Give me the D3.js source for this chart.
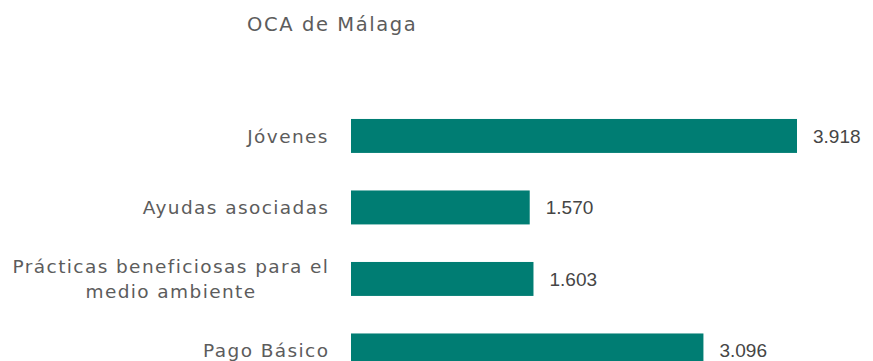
<!DOCTYPE html>
<html lang="es">
<head>
<meta charset="utf-8">
<script src="https://cdn.jsdelivr.net/npm/d3@7/dist/d3.min.js"></script>
<style>
  html, body { margin: 0; padding: 0; background: #ffffff; }
  svg { display: block; }
</style>
</head>
<body>
<svg id="chart" width="873" height="361"></svg>
<script>
// Ayudas PAC por línea — OCA de Málaga
const title = "OCA de Málaga";
const categories = [
  ["Jóvenes"],
  ["Ayudas asociadas"],
  ["Prácticas beneficiosas para el", "medio ambiente"],
  ["Pago Básico"]
];
const values = [3918, 1570, 1603, 3096];
const valueLabels = ["3.918", "1.570", "1.603", "3.096"];

const W = 873, H = 361;
const barColor = "#007d73";
const labelFont = "'DejaVu Sans', 'Open Sans', sans-serif";
const numberFont = "'Liberation Sans', Arial, sans-serif";
const labelSpacing = 1.4;

const svg = d3.select("#chart");

const keys = categories.map(c => c.join(" "));

const x = d3.scaleLinear()
  .domain([0, d3.max(values)])
  .range([351, 797]);

const y = d3.scaleBand()
  .domain(keys)
  .range([100.2, 386.2])
  .paddingInner(0.525)
  .paddingOuter(0.2625);

// Title
svg.append("text")
  .attr("x", 247)
  .attr("y", 31)
  .attr("font-family", labelFont)
  .attr("font-size", 19.5)
  .attr("letter-spacing", 1.6)
  .attr("fill", "#5c5c5c")
  .text(title);

// Bars
svg.append("g")
  .selectAll("rect")
  .data(values)
  .join("rect")
  .attr("x", x(0))
  .attr("y", (d, i) => y(keys[i]))
  .attr("width", d => x(d) - x(0))
  .attr("height", y.bandwidth())
  .attr("fill", barColor);

// Value labels
svg.append("g")
  .selectAll("text")
  .data(values)
  .join("text")
  .attr("x", d => x(d) + 16)
  .attr("y", (d, i) => y(keys[i]) + y.bandwidth() / 2)
  .attr("dy", "0.36em")
  .attr("font-family", numberFont)
  .attr("font-size", 19)
  .attr("fill", "#454545")
  .text((d, i) => valueLabels[i]);

// Category labels (multi-line labels are centred as a block, right-aligned to the axis)
const lineH = 25;
const rightEdge = 328;
const catG = svg.append("g");
categories.forEach((lines, i) => {
  const cy = y(keys[i]) + y.bandwidth() / 2;
  const t = catG.append("text")
    .attr("font-family", labelFont)
    .attr("font-size", 18.5)
    .attr("letter-spacing", labelSpacing)
    .attr("fill", "#5c5c5c")
    .attr("text-anchor", "middle");
  lines.forEach((ln, j) => {
    t.append("tspan")
      .attr("x", 0)
      .attr("y", cy + (j - (lines.length - 1) / 2) * lineH)
      .attr("dy", "0.36em")
      .text(ln);
  });
  const w = t.node().getBBox().width - labelSpacing;
  t.attr("transform", `translate(${rightEdge - w / 2 + labelSpacing / 2},0)`);
});
</script>
</body>
</html>
